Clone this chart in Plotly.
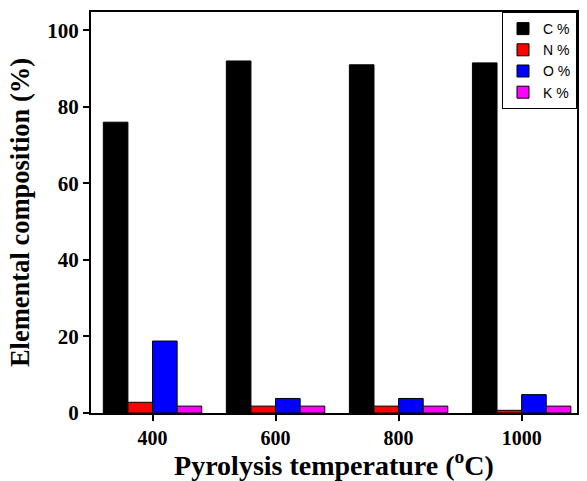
import plotly.graph_objects as go

categories = ["400", "600", "800", "1000"]
c_vals = [76, 92, 91, 91.5]
n_vals = [2.8, 1.8, 1.8, 0.7]
o_vals = [18.8, 3.8, 3.8, 4.8]
k_vals = [1.8, 1.8, 1.8, 1.8]
series_names = ["C %", "N %", "O %", "K %"]
series_colors = ["#000000", "#ff0000", "#0000ff", "#ff00ff"]

fig = go.Figure()
for name, vals, col in zip(series_names, [c_vals, n_vals, o_vals, k_vals], series_colors):
    fig.add_trace(go.Bar(x=categories, y=vals, name=name,
                         marker=dict(color=col, line=dict(color="black", width=1))))

serif = "Liberation Serif, Times New Roman, serif"
fig.update_layout(
    width=587, height=481,
    margin=dict(l=91, r=10, t=12, b=68, autoexpand=False),
    plot_bgcolor="white", paper_bgcolor="white",
    barmode="group", bargap=0.2, bargroupgap=0,
    showlegend=True,
    legend=dict(x=1, y=1, xanchor="right", yanchor="top",
                bordercolor="black", borderwidth=1, bgcolor="white",
                font=dict(family="Liberation Sans, Arial, sans-serif", size=14, color="black"),
                tracegroupgap=0, itemwidth=30),
    xaxis=dict(type="category", range=[-0.5, 3.45], automargin=False,
               showline=True, linecolor="black", linewidth=2, mirror=True,
               ticks="outside", ticklen=6, tickwidth=2, tickcolor="black",
               tickfont=dict(family=serif, size=20, color="black", weight="bold"),
               title=dict(text="<b>Pyrolysis temperature (<sup>o</sup>C)</b>", standoff=6,
                          font=dict(family=serif, size=28, color="black"))),
    yaxis=dict(range=[0, 104.8], tickvals=[0, 20, 40, 60, 80, 100], automargin=False,
               showline=True, linecolor="black", linewidth=2, mirror=True,
               showgrid=False, zeroline=False,
               ticks="outside", ticklen=6, tickwidth=2, tickcolor="black",
               tickfont=dict(family=serif, size=21, color="black", weight="bold"),
               title=dict(text="<b>Elemental composition (%)</b>", standoff=10,
                          font=dict(family=serif, size=26.5, color="black"))),
)
fig.write_html("out.html", config={"displayModeBar": False},
               post_script="document.body.style.margin='0';")
